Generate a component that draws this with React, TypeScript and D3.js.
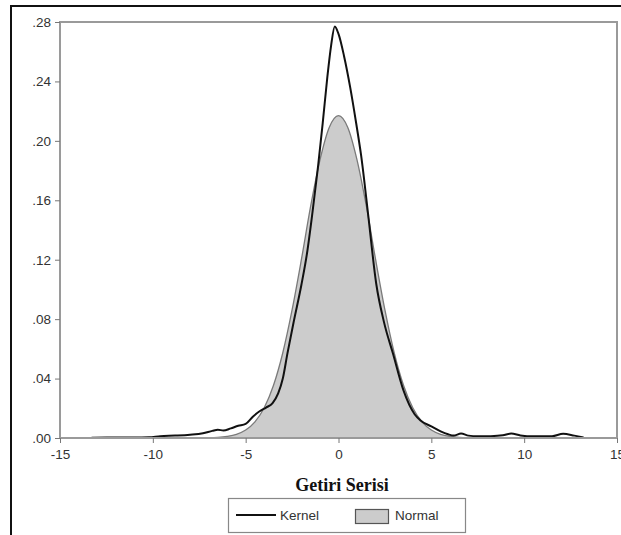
import React, { useEffect, useRef } from "react";
import * as d3 from "d3";

// kernel density estimate
const kernelX = [-13.3, -12, -11, -10.2, -9.6, -8.8, -8, -7.3, -6.8, -6.5, -6.2, -5.8, -5.4, -5.0, -4.6, -4.25, -3.9, -3.55, -3.25, -3.0, -2.75, -2.4, -2.0, -1.7, -1.4, -1.1, -0.85, -0.6, -0.4, -0.2, 0.0, 0.3, 0.63, 0.95, 1.22, 1.6, 2.03, 2.45, 2.93, 3.5, 4.1, 4.4, 5.0, 5.5, 5.9, 6.2, 6.6, 7.0, 7.5, 8.2, 8.85, 9.3, 9.8, 10.5, 11.5, 12.1, 12.7, 13.2];
const kernelY = [0.0002, 0.0003, 0.0003, 0.0005, 0.0012, 0.0016, 0.0022, 0.0032, 0.0048, 0.0056, 0.005, 0.0065, 0.0082, 0.0095, 0.0145, 0.018, 0.0205, 0.0235, 0.03, 0.04, 0.057, 0.079, 0.103, 0.124, 0.152, 0.183, 0.212, 0.243, 0.264, 0.277, 0.272, 0.257, 0.236, 0.212, 0.19, 0.15, 0.104, 0.078, 0.057, 0.032, 0.016, 0.012, 0.0078, 0.0045, 0.0025, 0.0016, 0.003, 0.0016, 0.0011, 0.0012, 0.0018, 0.003, 0.0017, 0.0011, 0.0012, 0.0028, 0.0016, 0.0004];

// fitted normal density
const normalX = [-7, -6.5, -6, -5.5, -5, -4.5, -4, -3.5, -3, -2.5, -2, -1.5, -1, -0.5, 0, 0.5, 1, 1.5, 2, 2.5, 3, 3.5, 4, 4.5, 5, 5.5, 6, 6.5, 7];
const normalY = [0.0001, 0.0004, 0.0011, 0.0025, 0.0054, 0.0109, 0.0204, 0.0355, 0.0574, 0.0862, 0.12, 0.156, 0.187, 0.209, 0.217, 0.209, 0.187, 0.156, 0.12, 0.0862, 0.0574, 0.0355, 0.0204, 0.0109, 0.0054, 0.0025, 0.0011, 0.0004, 0.0001];

const xTicks = [-15, -10, -5, 0, 5, 10, 15];
const yTicks = [0, 0.04, 0.08, 0.12, 0.16, 0.2, 0.24, 0.28];
const xTitle = "Getiri Serisi";
const legendLabels = ["Kernel", "Normal"];

const W = 621;
const H = 535;

const App = () => {
    const svgRef = useRef(null);

    useEffect(() => {
        const svg = d3.select(svgRef.current);
        svg.selectAll("*").remove();

        const left = 60, right = 617, top = 22, bottom = 438;
        const x = d3.scaleLinear().domain([-15, 15]).range([left, right]);
        const y = d3.scaleLinear().domain([0, 0.28]).range([bottom, top]);
        const tickFont = "'Liberation Sans', Arial, sans-serif";

        // outer frame (top and left edges only)
        svg.append("path")
            .attr("d", `M11,535 L11,6 L621,6`)
            .attr("fill", "none")
            .attr("stroke", "#111")
            .attr("stroke-width", 2);

        const normal = normalX.map((v, i) => [v, normalY[i]]);
        const kernel = kernelX.map((v, i) => [v, kernelY[i]]);

        // normal fill + outline
        svg.append("path")
            .datum(normal)
            .attr("d", d3.area()
                .x((d) => x(d[0]))
                .y0(y(0))
                .y1((d) => y(d[1]))
                .curve(d3.curveMonotoneX))
            .attr("fill", "#cccccc");

        svg.append("path")
            .datum(normal)
            .attr("d", d3.line()
                .x((d) => x(d[0]))
                .y((d) => y(d[1]))
                .curve(d3.curveMonotoneX))
            .attr("fill", "none")
            .attr("stroke", "#7a7a7a")
            .attr("stroke-width", 1.3);

        svg.append("path")
            .datum(kernel)
            .attr("d", d3.line()
                .x((d) => x(d[0]))
                .y((d) => y(d[1]))
                .curve(d3.curveMonotoneX))
            .attr("fill", "none")
            .attr("stroke", "#111")
            .attr("stroke-width", 2);

        // plot frame
        svg.append("rect")
            .attr("x", left)
            .attr("y", top)
            .attr("width", right - left)
            .attr("height", bottom - top)
            .attr("fill", "none")
            .attr("stroke", "#9a9a9a")
            .attr("stroke-width", 2);

        // y axis
        const yAxis = svg.append("g")
            .attr("transform", `translate(${left},0)`)
            .call(d3.axisLeft(y).tickValues(yTicks).tickSize(5).tickPadding(4)
                .tickFormat((d) => (+d).toFixed(2).replace(/^0/, "")));
        yAxis.select(".domain").remove();
        yAxis.selectAll("line").attr("stroke", "#777");
        yAxis.selectAll("text")
            .attr("font-family", tickFont)
            .attr("font-size", 13.5)
            .attr("fill", "#333");

        // x axis (plain hyphen minus like the original)
        const xAxis = svg.append("g")
            .attr("transform", `translate(0,${bottom})`)
            .call(d3.axisBottom(x).tickValues(xTicks).tickSize(5).tickPadding(6)
                .tickFormat((d) => String(d)));
        xAxis.select(".domain").remove();
        xAxis.selectAll("line").attr("stroke", "#777");
        xAxis.selectAll("text")
            .attr("font-family", tickFont)
            .attr("font-size", 13.5)
            .attr("fill", "#333");

        svg.append("text")
            .attr("x", 342)
            .attr("y", 491)
            .attr("text-anchor", "middle")
            .attr("font-family", "'Liberation Serif', 'Times New Roman', serif")
            .attr("font-weight", "bold")
            .attr("font-size", 18)
            .attr("fill", "#111")
            .text(xTitle);

        // legend
        const legend = svg.append("g");
        legend.append("rect")
            .attr("x", 228.5)
            .attr("y", 498.5)
            .attr("width", 237)
            .attr("height", 34)
            .attr("fill", "#fff")
            .attr("stroke", "#888")
            .attr("stroke-width", 1.2);
        legend.append("line")
            .attr("x1", 236).attr("x2", 276)
            .attr("y1", 515).attr("y2", 515)
            .attr("stroke", "#111")
            .attr("stroke-width", 2);
        legend.append("text")
            .attr("x", 280).attr("y", 520)
            .attr("font-family", tickFont)
            .attr("font-size", 13.5)
            .attr("fill", "#333")
            .text(legendLabels[0]);
        legend.append("rect")
            .attr("x", 355.5).attr("y", 509.5)
            .attr("width", 33).attr("height", 14)
            .attr("fill", "#cccccc")
            .attr("stroke", "#555")
            .attr("stroke-width", 1.2);
        legend.append("text")
            .attr("x", 395).attr("y", 520)
            .attr("font-family", tickFont)
            .attr("font-size", 13.5)
            .attr("fill", "#333")
            .text(legendLabels[1]);
    }, []);

    return (
        <svg
            ref={svgRef}
            width={W}
            height={H}
            style={{ position: "absolute", left: 0, top: 0, background: "#fff" }}
        ></svg>
    );
};

export default App;
